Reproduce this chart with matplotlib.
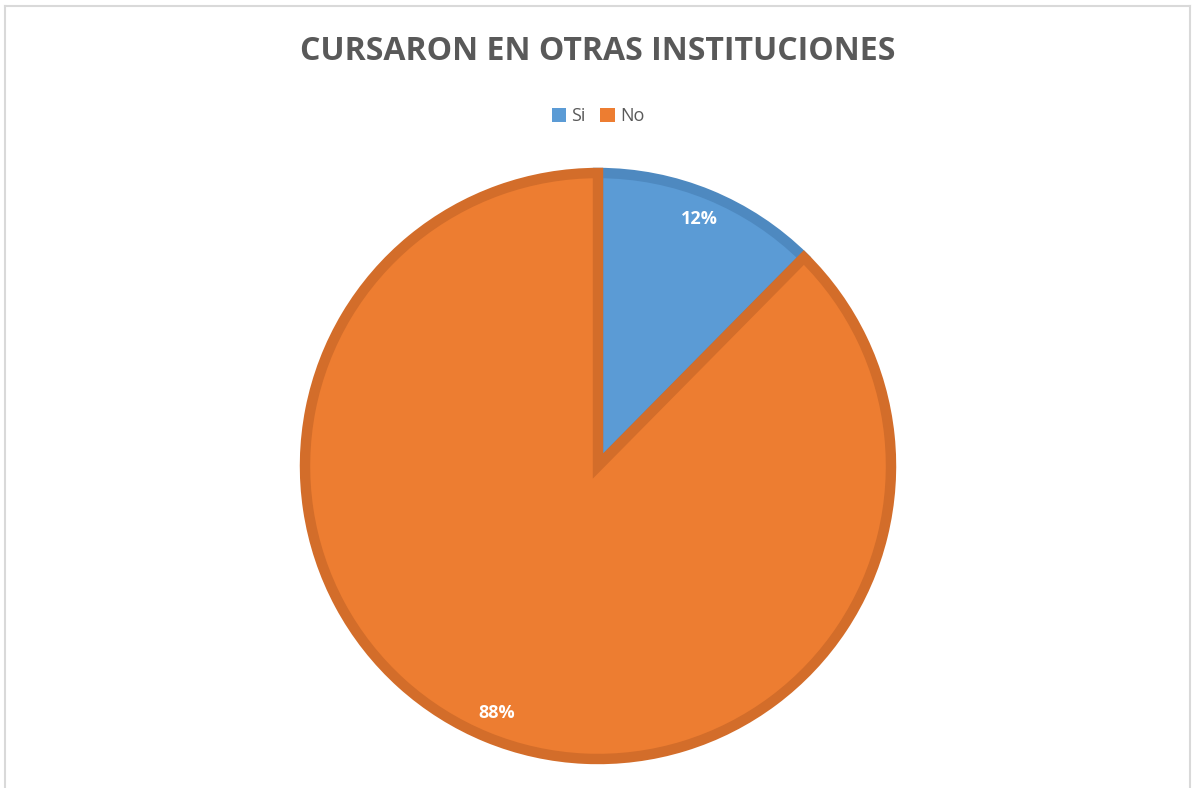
import matplotlib.pyplot as plt
from matplotlib.lines import Line2D
from matplotlib.patches import Patch

# Data
labels = ['Si', 'No']
values = [12.4, 87.6]

TITLE = 'CURSARON EN OTRAS INSTITUCIONES'
FACE_COLORS = ['#5B9BD5', '#ED7D31']
EDGE_COLORS = ['#4E89C0', '#D36D2A']
TEXT_GRAY = '#595959'

W, H = 1194, 788
fig = plt.figure(figsize=(W / 100, H / 100), dpi=100)
fig.patch.set_facecolor('white')

# thin grey chart frame (bottom edge is cut off in the original)
frame = dict(color='#D9D9D9', linewidth=1.5, transform=fig.transFigure)
fig.add_artist(Line2D([5 / W, 5 / W], [0, 1 - 6 / H], **frame))
fig.add_artist(Line2D([5 / W, 1190 / W], [1 - 6 / H, 1 - 6 / H], **frame))
fig.add_artist(Line2D([1190 / W, 1190 / W], [0, 1 - 6 / H], **frame))

# pie axes centred on (598, 466) px
cx, cy, half = 598, 466, 300
ax = fig.add_axes([(cx - half) / W, (H - cy - half) / H, 2 * half / W, 2 * half / H])

wedges, texts, autotexts = ax.pie(
    values, colors=FACE_COLORS, startangle=90, counterclock=False,
    autopct='%.0f%%', pctdistance=0.91, radius=1.0,
    wedgeprops=dict(linewidth=7.5, joinstyle='miter'),
    textprops=dict(color='white', fontsize=13, fontweight='bold', family='Open Sans'))
for w, ec in zip(wedges, EDGE_COLORS):
    w.set_edgecolor(ec)

lim = half / 293
ax.set_xlim(-lim, lim)
ax.set_ylim(-lim, lim)
ax.set_aspect('equal')
ax.axis('off')

fig.text(cx / W, 1 - 51 / H, TITLE, ha='center', va='center', fontsize=23,
         fontweight='bold', color=TEXT_GRAY, family='Open Sans')

handles = [Patch(facecolor=c, edgecolor='none') for c in FACE_COLORS]
fig.legend(handles, labels, loc='center', bbox_to_anchor=(cx / W, 1 - 116 / H),
           ncol=2, frameon=False, handlelength=0.8, handleheight=0.8,
           handletextpad=0.3, columnspacing=0.8,
           prop=dict(family='Open Sans', size=13), labelcolor=TEXT_GRAY)

fig.savefig('out.png', dpi=100, facecolor='white')
